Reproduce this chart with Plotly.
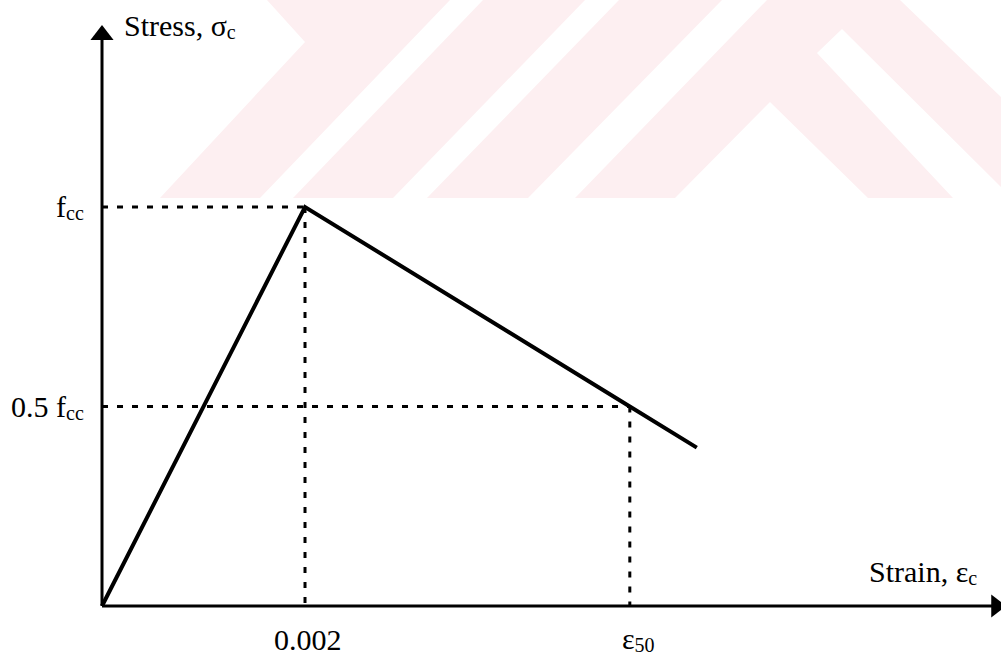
import plotly.graph_objects as go

# ---- stress-strain model (stress normalised by f_cc) ----
curve_strain = [0.0, 0.002, 0.0052, 0.00586]
curve_stress = [0.0, 1.0, 0.5, 0.397]

peak_strain = 0.002
peak_stress = 1.0
eps50_strain = 0.0052
half_stress = 0.5

# subscript: slightly smaller, sitting just under the baseline
def sub(s):
    return f'<span style="font-size:20px;baseline-shift:-3px">{s}</span>'

x_tick_vals = [0.002, 0.0052]
x_tick_text = ["0.002", "ε" + sub("50")]
y_tick_vals = [1.0, 0.5]
y_tick_text = ["f" + sub("cc"), "0.5 f" + sub("cc")]

x_title = "Strain, ε" + sub("c")
y_title = "Stress, σ" + sub("c")

# axis extents (arrowhead centres)
x_axis_end = 0.00881
y_axis_end = 1.431

W, H = 1001, 656
X_RANGE = [-0.001005, 0.008857]
Y_RANGE = [-0.1253, 1.5188]

FONT = "Liberation Serif, Times New Roman, serif"
INK = "#000000"

fig = go.Figure()

# faint background emblem (pixel outlines -> paper coordinates)
emblem = [
    [(267, 0), (450, 0), (260, 198), (160, 198), (305, 42)],
    [(483, 0), (585, 0), (393, 198), (293, 198)],
    [(619, 0), (722, 0), (528, 198), (427, 198)],
    [(767, 0), (900, 0), (1001, 97), (1001, 187), (842, 29), (817, 53),
     (953, 198), (868, 198), (770, 102), (675, 198), (575, 198)],
]
for poly in emblem:
    pts = [(px / W, 1 - py / H) for px, py in poly]
    path = "M " + " L ".join(f"{x:.5f},{y:.5f}" for x, y in pts) + " Z"
    fig.add_shape(type="path", path=path, xref="paper", yref="paper",
                  fillcolor="#fdeff1", line=dict(width=0), layer="below")

# dotted guide lines
dot = dict(color=INK, width=3, dash="6px,9px")
guides = [
    ([0, peak_strain], [peak_stress, peak_stress]),
    ([0, eps50_strain], [half_stress, half_stress]),
    ([peak_strain, peak_strain], [peak_stress, 0]),
    ([eps50_strain, eps50_strain], [half_stress, 0]),
]
for gx, gy in guides:
    fig.add_trace(go.Scatter(x=gx, y=gy, mode="lines", line=dot,
                             hoverinfo="skip", showlegend=False))

# axes with arrowheads
fig.add_trace(go.Scatter(x=[0, x_axis_end], y=[0, 0], mode="lines",
                         line=dict(color=INK, width=3), showlegend=False,
                         hoverinfo="skip"))
fig.add_trace(go.Scatter(x=[0, 0], y=[0, y_axis_end], mode="lines",
                         line=dict(color=INK, width=3), showlegend=False,
                         hoverinfo="skip"))
fig.add_trace(go.Scatter(x=[x_axis_end], y=[0], mode="markers",
                         marker=dict(symbol="triangle-right", size=20, color=INK,
                                     line=dict(width=0)),
                         cliponaxis=False, showlegend=False, hoverinfo="skip"))
fig.add_trace(go.Scatter(x=[0], y=[y_axis_end], mode="markers",
                         marker=dict(symbol="triangle-up", size=20, color=INK,
                                     line=dict(width=0)),
                         cliponaxis=False, showlegend=False, hoverinfo="skip"))

# stress-strain curve
fig.add_trace(go.Scatter(x=curve_strain, y=curve_stress, mode="lines",
                         line=dict(color=INK, width=4), showlegend=False))

font = dict(family=FONT, size=30, color=INK)

# tick labels
for v, t in zip(y_tick_vals, y_tick_text):
    fig.add_annotation(x=0, y=v, xref="x", yref="y", text=t, showarrow=False,
                       xanchor="right", yanchor="middle", xshift=-17, font=font,
                       borderpad=0)
fig.add_annotation(x=x_tick_vals[0], y=0, text=x_tick_text[0], showarrow=False,
                   xanchor="center", yanchor="middle", xshift=3, yshift=-33,
                   font=font, borderpad=0)
fig.add_annotation(x=x_tick_vals[1], y=0, text=x_tick_text[1], showarrow=False,
                   xanchor="left", yanchor="middle", xshift=-9, yshift=-33,
                   font=font, borderpad=0)

# axis titles
fig.add_annotation(x=868 / W, y=1 - 572 / H, xref="paper", yref="paper",
                   text=x_title, showarrow=False, xanchor="left", yanchor="middle",
                   font=font, borderpad=0)
fig.add_annotation(x=123 / W, y=1 - 26 / H, xref="paper", yref="paper",
                   text=y_title, showarrow=False, xanchor="left", yanchor="middle",
                   font=font, borderpad=0)

fig.update_layout(
    width=W, height=H,
    margin=dict(l=0, r=0, t=0, b=0),
    paper_bgcolor="white", plot_bgcolor="rgba(0,0,0,0)",
    xaxis=dict(range=X_RANGE, visible=False, fixedrange=True),
    yaxis=dict(range=Y_RANGE, visible=False, fixedrange=True),
    showlegend=False,
)

fig.write_html("out.html", config={"displayModeBar": False})
